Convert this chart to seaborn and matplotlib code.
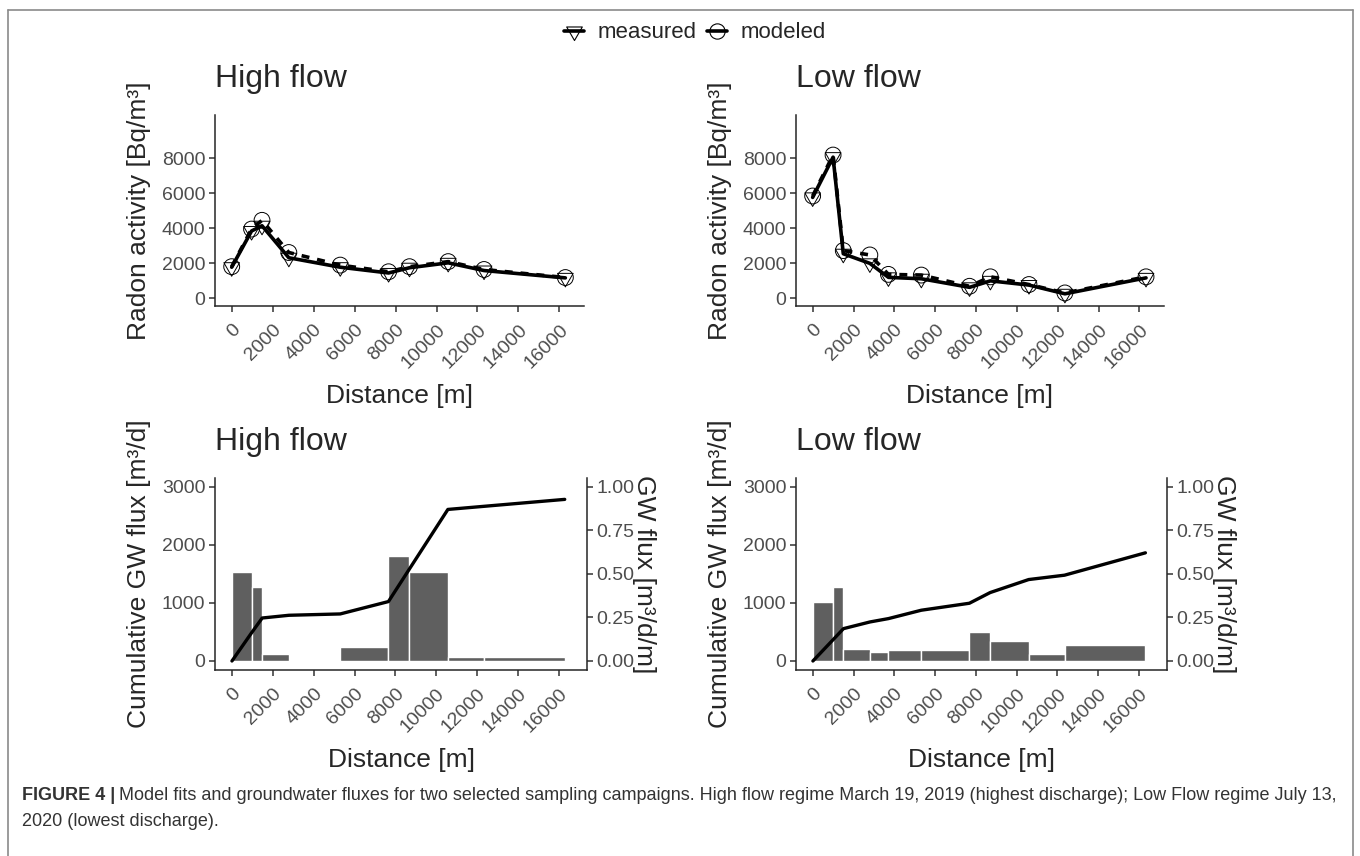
import numpy as np
import pandas as pd
import matplotlib
matplotlib.use("Agg")
import matplotlib.pyplot as plt
import seaborn as sns
from matplotlib.lines import Line2D
from matplotlib.path import Path

# ---------------- data ----------------
hf_dist = [0, 970, 1480, 2790, 5300, 7660, 8680, 10570, 12320, 16290]
hf_measured = [1760, 3830, 4130, 2300, 1760, 1430, 1730, 2010, 1570, 1150]
hf_modeled = [1790, 3940, 4440, 2600, 1880, 1500, 1790, 2080, 1630, 1170]
hf_cumflux = [0, 490, 740, 787, 810, 1023, 1580, 2609, 2662, 2782]
hf_gwflux = [0.513, 0.427, 0.038, 0.0, 0.080, 0.600, 0.513, 0.023, 0.023]

lf_dist = [0, 1000, 1500, 2800, 3710, 5320, 7680, 8700, 10590, 12350, 16320]
lf_measured = [5750, 8050, 2530, 1980, 1180, 1100, 610, 980, 740, 240, 1150]
lf_modeled = [5830, 8170, 2710, 2460, 1350, 1310, 670, 1210, 770, 290, 1210]
lf_cumflux = [0, 370, 557, 672, 730, 874, 994, 1178, 1402, 1477, 1862]
lf_gwflux = [0.339, 0.427, 0.071, 0.054, 0.063, 0.063, 0.169, 0.117, 0.042, 0.092]

x_ticks = [0, 2000, 4000, 6000, 8000, 10000, 12000, 14000, 16000]
radon_ticks = [0, 2000, 4000, 6000, 8000]
cum_ticks = [0, 1000, 2000, 3000]
gw_ticks = [0.0, 0.25, 0.5, 0.75, 1.0]
titles = ["High flow", "Low flow"]
SEC_SCALE = 3000

# ---------------- style ----------------
sns.set_style("ticks")
plt.rcParams["font.family"] = ["Liberation Sans", "DejaVu Sans"]
plt.rcParams["axes.linewidth"] = 1.1

W, H = 1360, 856
fig = plt.figure(figsize=(W / 100, H / 100), dpi=100)
fig.patch.set_facecolor("white")

TICK_COLOR = "#4D4D4D"
# down-pointing triangle centred on its centroid (like R's pch 6)
TRI = Path([(0, -1), (-0.866, 0.5), (0.866, 0.5), (0, -1)],
           [Path.MOVETO, Path.LINETO, Path.LINETO, Path.CLOSEPOLY])


def px_axes(left, top, right, bottom):
    return fig.add_axes([left / W, 1 - bottom / H, (right - left) / W, (bottom - top) / H])


def style_axis(ax, title, ylabel):
    for s in ["top", "right"]:
        ax.spines[s].set_visible(False)
    ax.tick_params(axis="both", length=4, width=1.1, color="#333333",
                   labelsize=14, labelcolor=TICK_COLOR, pad=3)
    ax.tick_params(axis="x", pad=7)
    ax.set_xticks(x_ticks)
    ax.set_xticklabels([str(t) for t in x_ticks], rotation=45, ha="right",
                       va="top", rotation_mode="anchor")
    ax.set_xlabel("Distance [m]", fontsize=19, labelpad=9)
    ax.set_ylabel(ylabel, fontsize=19, labelpad=8)
    ax.set_title(title, loc="left", fontsize=23, pad=20)


# ---------------- top panels ----------------
top_sets = [(hf_dist, hf_measured, hf_modeled), (lf_dist, lf_measured, lf_modeled)]
top_boxes = [(215, 115, 584, 306), (796, 115, 1164, 306)]
for (dist, meas, mod), box, title in zip(top_sets, top_boxes, titles):
    ax = px_axes(*box)
    sns.lineplot(x=dist, y=meas, color="black", lw=2.6, ax=ax, zorder=3)
    sns.lineplot(x=dist, y=mod, color="black", lw=2.6, ax=ax, zorder=3,
                 linestyle=(0, (2.2, 2.2)))
    sns.scatterplot(x=dist, y=meas, marker=TRI, s=170, facecolors="none",
                    edgecolor="black", linewidth=0.7, ax=ax, zorder=4)
    sns.scatterplot(x=dist, y=mod, marker="o", s=130, facecolors="none",
                    edgecolor="black", linewidth=0.7, ax=ax, zorder=4)
    ax.set_xlim(-815, 17200)
    ax.set_ylim(-457, 10460)
    ax.set_yticks(radon_ticks)
    style_axis(ax, title, "Radon activity [Bq/m³]")

# ---------------- bottom panels ----------------
bot_sets = [(hf_dist, hf_cumflux, hf_gwflux), (lf_dist, lf_cumflux, lf_gwflux)]
bot_boxes = [(215, 478, 587, 670), (796, 478, 1167, 670)]
for (dist, cum, gw), box, title in zip(bot_sets, bot_boxes, titles):
    ax = px_axes(*box)
    lefts = np.array(dist[:-1], dtype=float)
    widths = np.diff(np.array(dist, dtype=float))
    heights = np.array(gw) * SEC_SCALE
    ax.bar(lefts, heights, width=widths, align="edge", color="#5f5f5f",
           edgecolor="white", linewidth=1.0, zorder=2)
    sns.lineplot(x=dist, y=cum, color="black", lw=2.4, ax=ax, zorder=3)
    ax.set_xlim(-830, 17380)
    ax.set_ylim(-155, 3150)
    ax.set_yticks(cum_ticks)
    style_axis(ax, title, "Cumulative GW flux [m³/d]")
    sec = ax.secondary_yaxis("right", functions=(lambda y: y / SEC_SCALE,
                                                 lambda v: v * SEC_SCALE))
    sec.set_yticks(gw_ticks)
    sec.set_yticklabels([f"{t:.2f}" for t in gw_ticks])
    sec.tick_params(length=4, width=1.1, color="#333333", labelsize=14,
                    labelcolor=TICK_COLOR, pad=3)
    sec.spines["right"].set_linewidth(1.1)
    sec.set_ylabel("GW flux [m³/d/m]", fontsize=19, rotation=270, labelpad=15)

# ---------------- legend ----------------
handles = [
    Line2D([], [], color="black", lw=2.6, marker=TRI, ms=13, mfc="none",
           mec="black", mew=0.8),
    Line2D([], [], color="black", lw=2.6, marker="o", ms=11, mfc="none",
           mec="black", mew=0.8),
]
fig.legend(handles, ["measured", "modeled"], loc="center",
           bbox_to_anchor=(695 / W, 1 - 33 / H), ncol=2, frameon=False,
           fontsize=16, handlelength=0.9, handletextpad=0.6,
           columnspacing=0.5)

# ---------------- outer frame ----------------
fc = "#8a8a8a"
fig.add_artist(Line2D([8 / W, 8 / W], [0, 1 - 10 / H], color=fc, lw=1.2,
                      transform=fig.transFigure))
fig.add_artist(Line2D([8 / W, 1353 / W], [1 - 10 / H, 1 - 10 / H], color=fc,
                      lw=1.2, transform=fig.transFigure))
fig.add_artist(Line2D([1353 / W, 1353 / W], [0, 1 - 10 / H], color=fc, lw=1.2,
                      transform=fig.transFigure))

# ---------------- caption ----------------
cap_color = "#333333"
cap_size = 13
y1 = 1 - 795 / H
y2 = 1 - 821 / H
t1 = fig.text(22 / W, y1, "FIGURE 4 |", fontsize=cap_size, weight="bold",
              color=cap_color, va="center")
fig.canvas.draw()
bb = t1.get_window_extent()
fig.text(bb.x1 / W + 4 / W, y1,
         "Model fits and groundwater fluxes for two selected sampling campaigns. "
         "High flow regime March 19, 2019 (highest discharge); Low Flow regime July 13,",
         fontsize=cap_size, color=cap_color, va="center")
fig.text(22 / W, y2, "2020 (lowest discharge).", fontsize=cap_size,
         color=cap_color, va="center")

fig.savefig("out.png", dpi=100, facecolor="white")
